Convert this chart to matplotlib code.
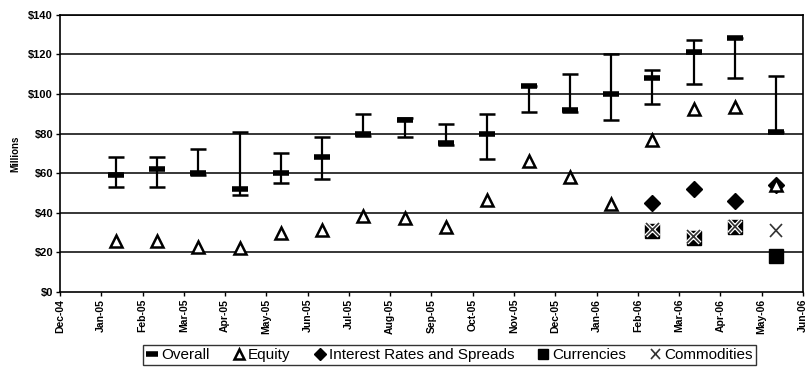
import matplotlib.pyplot as plt
import matplotlib.patheffects as pe
import numpy as np

plt.rcParams['font.family'] = ['Liberation Sans', 'DejaVu Sans']

# month axis labels (Dec-04 .. Jun-06)
tick_labels = ['Dec-04', 'Jan-05', 'Feb-05', 'Mar-05', 'Apr-05', 'May-05', 'Jun-05',
               'Jul-05', 'Aug-05', 'Sep-05', 'Oct-05', 'Nov-05', 'Dec-05', 'Jan-06',
               'Feb-06', 'Mar-06', 'Apr-06', 'May-06', 'Jun-06']

# one observation per month, Jan-05 .. May-06 ($ millions)
overall    = [59, 62, 60, 52, 60, 68, 80, 87, 75, 80, 104, 92, 100, 108, 121, 128, 81]
overall_hi = [68, 68, 72, 81, 70, 78, 90, 88, 85, 90, 104, 110, 120, 112, 127, 128, 109]
overall_lo = [53, 53, 59, 49, 55, 57, 79, 78, 74, 67, 91, 91, 87, 95, 105, 108, 81]
equity     = [26, 26, 22.5, 22, 30, 31.5, 38.5, 37.5, 33, 46.5, 66, 58, 44.5, 76.5, 92.5, 93.5, 54]

# only the last four months have the breakdown
rates       = [45, 52, 46, 54]
currencies  = [31, 27.5, 33, 18]
commodities = [31.5, 28, 33, 31]

x = np.arange(len(overall)) + 1.35
x_late = x[-4:]

fig = plt.figure(figsize=(8.06, 3.70), dpi=100)
ax = fig.add_axes([0.0744, 0.2108, 0.9219, 0.7495])

for yv in range(20, 141, 20):
    ax.axhline(yv, color='black', lw=1.1, zorder=1)

lo_err = np.array(overall) - np.array(overall_lo)
hi_err = np.array(overall_hi) - np.array(overall)
ax.errorbar(x, overall, yerr=[lo_err, hi_err], fmt='none', ecolor='black',
            elinewidth=1.6, capsize=5.5, capthick=1.8, zorder=3)
ax.plot(x, overall, ls='none', marker='_', ms=11, mew=4, color='black',
        zorder=4, label='Overall')

ax.plot(x, equity, ls='none', marker='^', ms=9, mfc='white', mec='black',
        mew=1.8, zorder=5, label='Equity')
ax.plot(x_late, rates, ls='none', marker='D', ms=8, color='black',
        zorder=4, label='Interest Rates and Spreads')
ax.plot(x_late, currencies, ls='none', marker='s', ms=10, color='black',
        zorder=4, label='Currencies')
ax.plot(x_late, commodities, ls='none', marker='x', ms=9, mew=1.2, color='#333333',
        zorder=6, label='Commodities',
        path_effects=[pe.withStroke(linewidth=3, foreground='white')])

ax.set_xlim(0, 18)
ax.set_ylim(0, 140)
ax.set_xticks(np.arange(len(tick_labels)))
ax.set_xticklabels(tick_labels, rotation=90, fontsize=7.5, fontweight='bold')
ax.set_yticks(range(0, 141, 20))
ax.set_yticklabels(['$%d' % v for v in range(0, 141, 20)], fontsize=8, fontweight='bold')
ax.tick_params(axis='both', direction='out', length=3, width=1, pad=2)
ax.set_ylabel('Millions', fontsize=7, fontweight='bold', labelpad=6)
for s in ax.spines.values():
    s.set_linewidth(1.2)

leg = fig.legend(loc='center', bbox_to_anchor=(0.558, 0.04),
                 ncol=5, fontsize=11, frameon=True, fancybox=False,
                 edgecolor='black', handlelength=0.8, handletextpad=0.2,
                 columnspacing=1.5, borderpad=0.2, markerscale=0.75)
leg.get_frame().set_linewidth(1.0)

fig.savefig('out.png', dpi=100)
